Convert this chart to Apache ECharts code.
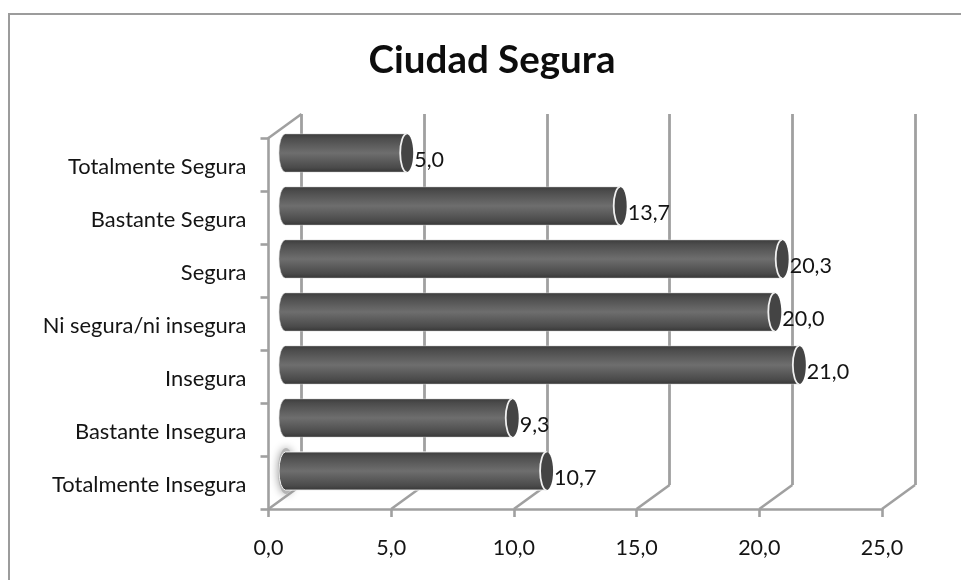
<!DOCTYPE html>
<html><head><meta charset="utf-8">
<style>html,body{margin:0;padding:0;background:#fff}#c{width:961px;height:580px}</style>
<script src="https://cdn.jsdelivr.net/npm/echarts@6/dist/echarts.min.js"></script>
</head><body><div id="c"></div>
<script>
const categories = ['Totalmente Insegura','Bastante Insegura','Insegura','Ni segura/ni insegura','Segura','Bastante Segura','Totalmente Segura'];
const values = [10.7,9.3,21.0,20.0,20.3,13.7,5.0];
const valueTicks = [0,5,10,15,20,25];
const titleText = 'Ciudad Segura';
const fmt = v => v.toFixed(1).replace('.',',');
const AX = '#a0a0a0', FONT = 'Lato', TXT = '#141414';
const DX = 33, DY = -24;
const chart = echarts.init(document.getElementById('c'), null, {renderer:'canvas'});

function cylinder(params, api){
  const v = api.value(0), idx = api.value(1);
  const s = api.coord([0, idx]), e = api.coord([v, idx]);
  const band = api.size([0,1])[1];
  const h = band*0.72;
  const ox = 10.5, oy = -11.5;
  const x0 = s[0]+ox, x1 = e[0]+ox+5, yc = s[1]+oy, rx = 6.5, ry = h/2;
  const grad = new echarts.graphic.LinearGradient(0,0,0,1,[
    {offset:0,color:'#3c3c3c'},{offset:0.12,color:'#4c4c4c'},{offset:0.5,color:'#6e6e6e'},
    {offset:0.88,color:'#4a4a4a'},{offset:1,color:'#363636'}]);
  const kids = [
    {type:'path', shape:{pathData:
      `M${x0+rx} ${yc-ry} L${x1} ${yc-ry} L${x1} ${yc+ry} L${x0+rx} ${yc+ry} A${rx} ${ry} 0 0 1 ${x0+rx} ${yc-ry} Z`,
      layout:'cover', x:x0, y:yc-ry, width:x1-x0, height:2*ry},
      style:{fill:grad, stroke:idx === 0 ? '#f2f2f2' : '#d0d0d0', lineWidth:idx === 0 ? 1 : 0.5}},
    {type:'ellipse', shape:{cx:x1, cy:yc, rx:rx, ry:ry}, style:{fill:'#444444'}},
    {type:'path', shape:{pathData:`M${x1} ${yc-ry} A${rx} ${ry} 0 0 0 ${x1} ${yc+ry}`,
      layout:'cover', x:x1-rx, y:yc-ry, width:rx, height:2*ry},
      style:{fill:'none', stroke:'#f0f0f0', lineWidth:1.8}},
    {type:'text', x:x1+rx+1, y:yc+7, style:{text:fmt(v), font:`21.5px ${FONT}`, fill:TXT, textAlign:'left', textVerticalAlign:'middle'}}
  ];
  if (idx === 0) kids.unshift({type:'ellipse', shape:{cx:x0+7, cy:yc, rx:8, ry:ry+4},
    style:{fill:'#b4b4b4', shadowBlur:9, shadowColor:'#9a9a9a'}});
  return {type:'group', children:kids};
}
function floorLine(params, api){
  const p = api.coord([api.value(0), 0]);
  const band = api.size([0,1])[1];
  const y = p[1]+band/2;
  return {type:'line', shape:{x1:p[0], y1:y, x2:p[0]+DX, y2:y+DY}, style:{stroke:AX, lineWidth:2.6}};
}
function topLine(params, api){
  const p = api.coord([0, categories.length-1]);
  const band = api.size([0,1])[1];
  const y = p[1]-band/2;
  return {type:'line', shape:{x1:p[0], y1:y, x2:p[0]+DX, y2:y+DY}, style:{stroke:AX, lineWidth:2.6}};
}
chart.setOption({
  animation:false,
  backgroundColor:'#fff',
  title:{text:titleText, left:487, top:36, textAlign:'center',
    textStyle:{fontFamily:FONT, fontWeight:'bold', fontSize:38.5, color:'#0d0d0d'}},
  graphic:[{type:'polyline', silent:true, shape:{points:[[9,580],[9,14],[961,14]]},
    style:{fill:'none', stroke:'#9c9c9c', lineWidth:2}}],
  grid:[
    {left:268.5, top:138, width:613.5, height:371},
    {left:301.5, top:114, width:613.5, height:371}
  ],
  xAxis:[
    {type:'value', gridIndex:0, min:0, max:25, interval:5,
      axisLine:{show:true, lineStyle:{color:AX,width:2.6}},
      axisTick:{show:true, length:8, lineStyle:{color:AX,width:2.6}},
      axisLabel:{formatter:fmt, margin:28, fontFamily:FONT, fontSize:21.5, color:TXT},
      splitLine:{show:false}},
    {type:'value', gridIndex:1, min:0, max:25, interval:5,
      axisLine:{show:false}, axisTick:{show:false}, axisLabel:{show:false},
      splitLine:{show:true, lineStyle:{color:AX,width:2.8}}}
  ],
  yAxis:[
    {type:'category', gridIndex:0, data:categories,
      axisLine:{show:true, lineStyle:{color:AX,width:2.6}},
      axisTick:{show:true, length:8, lineStyle:{color:AX,width:2.6}},
      axisLabel:{margin:22, fontFamily:FONT, fontSize:21.9, color:TXT, verticalAlign:'top', lineHeight:5}},
    {type:'category', gridIndex:1, data:categories, axisLine:{show:false}, axisTick:{show:false}, axisLabel:{show:false}, splitLine:{show:false}}
  ],
  series:[
    {type:'custom', xAxisIndex:0, yAxisIndex:0, z:1, silent:true, renderItem:floorLine,
      data:valueTicks.map(v=>[v]), encode:{x:0}},
    {type:'custom', xAxisIndex:0, yAxisIndex:0, z:1, silent:true, renderItem:topLine, data:[[0]], encode:{x:0}},
    {type:'custom', xAxisIndex:0, yAxisIndex:0, z:5, silent:true, renderItem:cylinder,
      data:values.map((v,i)=>[v,i]), encode:{x:0,y:1}}
  ]
});
</script></body></html>
